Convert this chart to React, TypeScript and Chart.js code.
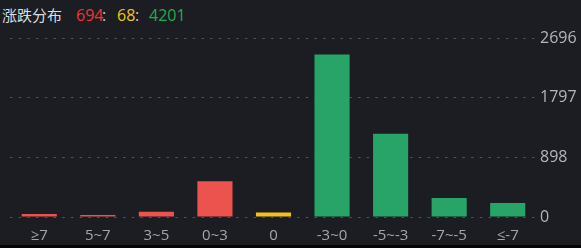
import React, { useEffect, useRef } from "react";
import { Chart, registerables } from "chart.js";

Chart.register(...registerables);

const categories = ["≥7", "5~7", "3~5", "0~3", "0", "-3~0", "-5~-3", "-7~-5", "≤-7"];
const counts = [47, 30, 80, 537, 68, 2448, 1254, 288, 211];
const barColors = ["#ec524e", "#ec524e", "#ec524e", "#ec524e", "#f1c21b", "#28a468", "#28a468", "#28a468", "#28a468"];
const upCount = 694;
const flatCount = 68;
const downCount = 4201;
const axisMax = 2696;
const axisTicks = [0, axisMax / 3, (axisMax * 2) / 3, axisMax];

const numFont = "'Open Sans', 'Noto Sans', sans-serif";

export default function App() {
  const canvasRef = useRef<HTMLCanvasElement | null>(null);

  useEffect(() => {
    document.body.style.margin = "0";
    document.body.style.background = "#1b1d22";
    const canvas = canvasRef.current;
    if (!canvas) return;
    const chart = new Chart(canvas, {
      type: "bar",
      data: {
        labels: categories,
        datasets: [
          {
            data: counts,
            backgroundColor: barColors,
            borderWidth: 0,
            barPercentage: 0.6,
            categoryPercentage: 1,
          },
        ],
      },
      options: {
        animation: false,
        responsive: false,
        maintainAspectRatio: false,
        layout: { padding: { top: 38, left: 10, right: 0, bottom: 0 } },
        plugins: { legend: { display: false }, tooltip: { enabled: false } },
        scales: {
          x: {
            afterFit: (axis) => {
              axis.height = 31;
            },
            grid: { display: false, drawTicks: false },
            border: { display: false },
            ticks: {
              color: "#a4a6ab",
              font: { family: numFont, size: 15 },
              padding: 10,
              maxRotation: 0,
              autoSkip: false,
            },
          },
          y: {
            position: "right",
            min: 0,
            max: axisMax,
            afterFit: (axis) => {
              axis.width = 44;
            },
            afterBuildTicks: (axis) => {
              axis.ticks = axisTicks.map((v) => ({ value: v }));
            },
            grid: {
              color: "#50535a",
              lineWidth: 1,
              drawTicks: false,
            },
            border: { display: false, dash: [2.5, 6.2] },
            ticks: {
              color: "#b4b6ba",
              font: { family: numFont, size: 16 },
              padding: 3,
              callback: (v) => String(Math.floor(Number(v))),
            },
          },
        },
      },
    });
    return () => chart.destroy();
  }, []);

  const piece = (left: number, color: string, text: string | number) => (
    <span style={{ position: "absolute", left, top: 0, color }}>{text}</span>
  );

  return (
    <div style={{ position: "fixed", left: 0, top: 0, width: 581, height: 248, background: "#1b1d22", overflow: "hidden" }}>
      <div
        style={{
          position: "absolute",
          left: 0,
          top: 5,
          height: 22,
          width: 200,
          fontSize: 15,
          lineHeight: "20px",
          whiteSpace: "pre",
        }}
      >
        <span style={{ position: "absolute", left: 2, top: 0, color: "#dcdde0", fontFamily: "'Noto Sans CJK SC', sans-serif" }}>
          涨跌分布
        </span>
        <span style={{ fontFamily: numFont, fontSize: 16 }}>
          {piece(76, "#f53333", upCount)}
          {piece(102, "#c8c9cc", ":")}
          {piece(117, "#f4c518", flatCount)}
          {piece(135, "#c8c9cc", ":")}
          {piece(149, "#22ad4a", downCount)}
        </span>
      </div>
      <canvas ref={canvasRef} width={581} height={248} style={{ position: "absolute", left: 0, top: 0 }} />
      <div style={{ position: "absolute", left: 0, top: 245, width: 581, height: 3, background: "#050506" }} />
    </div>
  );
}
